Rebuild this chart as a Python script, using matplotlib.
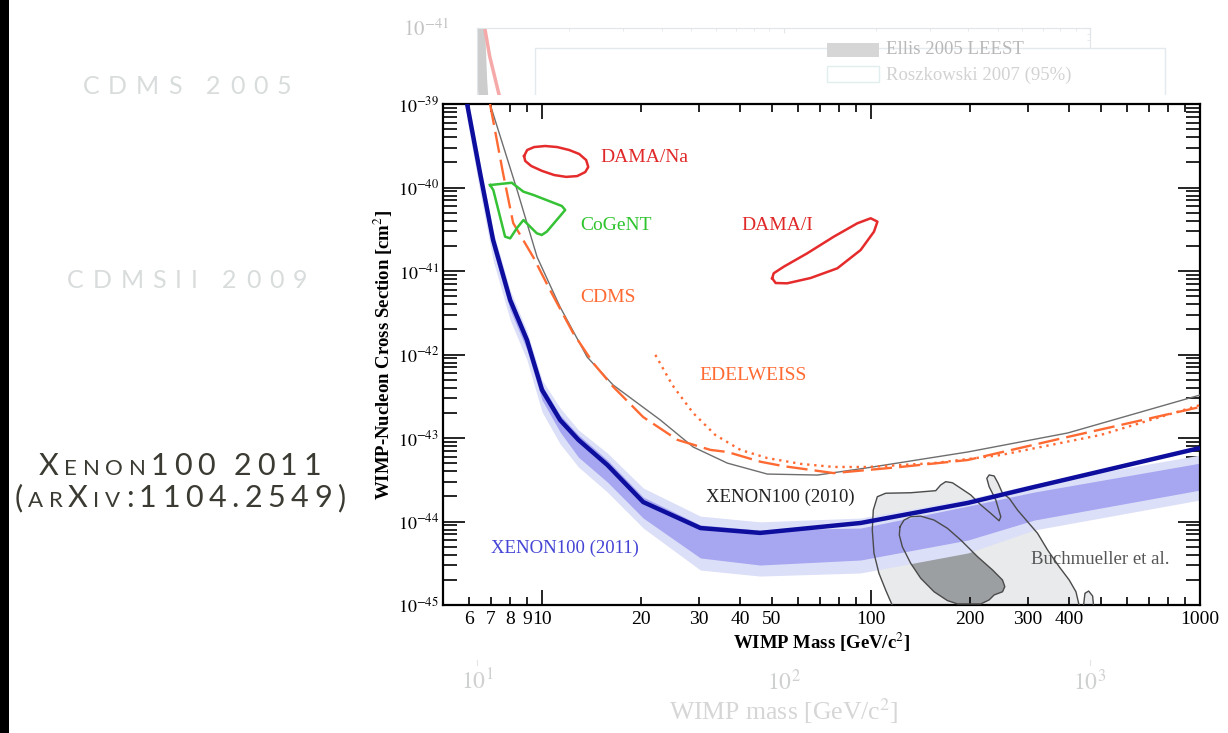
import numpy as np
import matplotlib
matplotlib.use("Agg")
import matplotlib.pyplot as plt
from matplotlib.patches import Rectangle
from matplotlib.lines import Line2D
from matplotlib.offsetbox import TextArea, HPacker, AnnotationBbox, DrawingArea
from matplotlib.ticker import LogLocator, NullFormatter

plt.rcParams['font.family'] = ['Liberation Serif', 'DejaVu Serif']
plt.rcParams['mathtext.fontset'] = 'stix'

W, H = 1228, 733

# XENON100 (2011) limit and expected sensitivity bands
xe11_mass = [5.92, 6.48, 7.1, 8.0, 9.0, 10.0, 11.35, 12.9, 15.8, 20.3, 30.3, 46.0, 93.0, 197.0, 313.0, 1000.0]
xe11_sigma = [1.0e-39, 1.49e-40, 2.35e-41, 4.5e-42, 1.49e-42, 3.76e-43, 1.64e-43, 9.5e-44, 4.75e-44,
              1.71e-44, 8.35e-45, 7.3e-45, 9.6e-45, 1.67e-44, 2.59e-44, 7.6e-44]
band1_hi = [1.12e-39, 1.71e-40, 2.62e-41, 5.0e-42, 1.62e-42, 4.3e-43, 1.88e-43, 1.09e-43, 5.45e-44,
            1.96e-44, 9.1e-45, 7.9e-45, 8.35e-45, 1.53e-44, 2.25e-44, 5.0e-44]
band1_lo = [8.0e-40, 1.16e-40, 1.78e-41, 3.41e-42, 1.13e-42, 2.85e-43, 1.18e-43, 5.9e-44, 2.97e-44,
            1.10e-44, 3.66e-45, 3.01e-45, 3.46e-45, 6.0e-45, 1.04e-44, 2.38e-44]
band2_hi = [1.25e-39, 1.96e-40, 3.01e-41, 5.9e-42, 1.91e-42, 4.95e-43, 2.29e-43, 1.25e-43, 6.6e-44,
            2.52e-44, 1.16e-44, 9.9e-45, 1.10e-44, 1.86e-44, 2.81e-44, 6.25e-44]
band2_lo = [6.4e-40, 8.8e-41, 1.35e-41, 2.59e-42, 8.6e-43, 2.05e-43, 8.5e-44, 4.5e-44, 2.25e-44,
            8.35e-45, 2.62e-45, 2.22e-45, 2.42e-45, 4.2e-45, 7.9e-45, 1.81e-44]

# XENON100 (2010)
xe10_mass = [6.95, 8.40, 9.66, 11.35, 13.72, 16.46, 22.9, 28.8, 36.6, 48.4, 68.8, 97.6, 196.8, 396.7, 1000.0]
xe10_sigma = [1.0e-39, 9.3e-41, 1.47e-41, 3.7e-42, 9.3e-43, 4.3e-43, 1.64e-43, 7.8e-44, 5.0e-44,
              3.7e-44, 3.6e-44, 4.4e-44, 6.8e-44, 1.15e-43, 3.27e-43]

# CDMS
cdms_mass = [6.95, 7.61, 8.17, 9.40, 10.58, 12.43, 14.31, 16.46, 20.3, 25.8, 32.5, 36.6, 46.1, 54.2,
             77.0, 123.0, 196.8, 396.7, 1000.0]
cdms_sigma = [1.0e-39, 1.49e-40, 3.76e-41, 1.47e-41, 5.9e-42, 1.81e-42, 7.9e-43, 4.1e-43, 1.78e-43,
              9.5e-44, 7.2e-44, 6.8e-44, 5.2e-44, 4.6e-44, 3.8e-44, 4.5e-44, 5.45e-44, 1.03e-43, 2.35e-43]

# EDELWEISS
edw_mass = [22.1, 24.9, 28.8, 33.6, 40.1, 48.4, 61.1, 77.0, 97.6, 155.0, 248.0, 500.0, 1000.0]
edw_sigma = [9.9e-43, 4.3e-43, 1.99e-43, 1.09e-43, 7.2e-44, 5.75e-44, 4.9e-44, 4.5e-44, 4.5e-44,
             5.0e-44, 6.25e-44, 1.09e-43, 2.48e-43]

# DAMA/Na contour
dama_na_mass = [8.82, 9.01, 9.46, 10.22, 11.12, 12.10, 12.97, 13.62, 13.82, 13.53, 12.79, 11.84,
                10.89, 10.0, 9.27, 8.89, 8.82]
dama_na_sigma = [2.38e-40, 2.81e-40, 3.05e-40, 3.14e-40, 3.05e-40, 2.81e-40, 2.52e-40, 2.13e-40,
                 1.76e-40, 1.53e-40, 1.37e-40, 1.34e-40, 1.41e-40, 1.58e-40, 1.81e-40, 2.08e-40, 2.38e-40]

# DAMA/I contour
dama_i_mass = [50.07, 51.3, 55.6, 65.5, 79.0, 93.0, 102.1, 104.6, 99.8, 90.9, 77.1, 64.0, 54.3, 50.6, 50.07]
dama_i_sigma = [8.18e-42, 7.18e-42, 7.12e-42, 8.24e-42, 1.077e-41, 1.784e-41, 2.96e-41, 3.90e-41,
                4.28e-41, 3.73e-41, 2.58e-41, 1.63e-41, 1.126e-41, 9.39e-42, 8.18e-42]

# CoGeNT contour
cogent_mass = [6.95, 8.09, 8.78, 9.42, 11.49, 11.76, 10.34, 9.98, 9.64, 8.78, 8.38, 8.0, 7.72, 7.11, 6.95]
cogent_sigma = [1.07e-40, 1.14e-40, 8.91e-41, 8.13e-41, 6.0e-41, 5.38e-41, 2.96e-41, 2.70e-41, 2.83e-41,
                4.08e-41, 3.25e-41, 2.46e-41, 2.58e-41, 9.33e-41, 1.07e-40]

# Buchmueller et al. (outer, inner, small island)
buch_out_mass = [118.8, 110.8, 105.7, 102.1, 100.9, 101.6, 104.5, 110.8, 132.0, 157.3, 162.9, 168.7,
                 176.8, 187.4, 201.0, 215.6, 231.3, 245.1, 248.0, 239.5, 228.6, 224.9, 228.6, 236.7,
                 243.4, 251.0, 263.0, 278.9, 299.1, 320.8, 344.1, 373.3, 400.4, 419.7, 434.7]
buch_out_sigma = [8e-46, 1.51e-45, 2.40e-45, 4.16e-45, 7.91e-45, 1.37e-44, 1.98e-44, 2.18e-44, 2.21e-44,
                  2.34e-44, 2.74e-44, 3.00e-44, 2.91e-44, 2.50e-44, 2.08e-44, 1.58e-44, 1.25e-44,
                  1.02e-44, 1.14e-44, 1.81e-44, 2.61e-44, 3.29e-44, 3.61e-44, 3.51e-44, 2.87e-44,
                  2.18e-44, 1.90e-44, 1.37e-44, 9.94e-45, 7.22e-45, 4.56e-45, 2.87e-45, 1.99e-45,
                  1.44e-45, 8e-46]
buch_isl_mass = [439.9, 447.0, 458.7, 471.7, 477.0]
buch_isl_sigma = [8e-46, 1.38e-45, 1.47e-45, 1.28e-45, 8e-46]
buch_in_mass = [122.5, 126.0, 132.0, 141.6, 155.5, 170.7, 187.4, 210.7, 234.0, 251.0, 255.1, 251.0,
                236.7, 228.6, 215.6, 201.0, 183.2, 170.7, 155.5, 141.6, 132.0, 124.5, 121.9, 122.5]
buch_in_sigma = [8.66e-45, 1.04e-44, 1.14e-44, 1.16e-44, 1.04e-44, 8.29e-45, 6.00e-45, 3.79e-45,
                 2.63e-45, 1.99e-45, 1.66e-45, 1.44e-45, 1.32e-45, 1.15e-45, 1.03e-45, 1.03e-45,
                 1.03e-45, 1.13e-45, 1.44e-45, 2.09e-45, 3.16e-45, 4.99e-45, 6.89e-45, 8.66e-45]

x_major = [10, 100, 1000]
x_minor = [6, 7, 8, 9, 20, 30, 40, 50, 60, 70, 80, 90, 200, 300, 400, 500, 600, 700, 800, 900]
x_minor_labels = ['6', '7', '8', '9', '20', '30', '40', '50', '', '', '', '',
                  '200', '300', '400', '', '', '', '', '']
y_major = [1e-45, 1e-44, 1e-43, 1e-42, 1e-41, 1e-40, 1e-39]
y_labels = ['$10^{-45}$', '$10^{-44}$', '$10^{-43}$', '$10^{-42}$', '$10^{-41}$', '$10^{-40}$', '$10^{-39}$']

# faded chart behind (previous slide)
old_pink_mass = [10.6, 11.0, 11.8, 12.5]
old_pink_sigma = [1e-41, 6e-42, 3e-42, 1.5e-42]
old_gray_mass = [10.25, 10.4, 10.6]
old_gray_sigma = [1e-41, 4e-42, 2e-42]

fig = plt.figure(figsize=(W / 100, H / 100), dpi=100)
fig.patch.set_facecolor('white')

# ---- ghost axes ----
gx = fig.add_axes([477 / W, 68 / H, 613 / W, 637 / H], zorder=0)
gx.set_xscale('log')
gx.set_yscale('log')
gx.set_xlim(10, 1000)
gx.set_ylim(1e-46, 1e-41)
gx.plot(old_gray_mass, old_gray_sigma, color='#cdcdcd', lw=7, solid_capstyle='butt')
gx.plot(old_pink_mass, old_pink_sigma, color='#f6a9a9', lw=2.5)
gx.spines['bottom'].set_visible(False)
for s in ['top', 'left', 'right']:
    gx.spines[s].set_color('#dfe5e8')
gx.tick_params(which='both', direction='in', color='#e2e7ea', top=True, right=True, bottom=False)
gx.set_xticks(x_major, labels=['$10^1$', '$10^2$', '$10^3$'])
gx.xaxis.set_minor_formatter(NullFormatter())
gx.tick_params(axis='x', labelsize=17, labelcolor='#cfd0d0', pad=3)
gx.set_yticks([1e-41], labels=['$10^{-41}$'])
gx.yaxis.set_minor_locator(LogLocator(subs=range(2, 10)))
gx.yaxis.set_minor_formatter(NullFormatter())
gx.tick_params(axis='y', labelsize=15, labelcolor='#c4c4c4', pad=20)
gx.set_xlabel('WIMP mass [GeV/c$^2$]', fontsize=18.5, color='#d6d6d6', labelpad=1)


def fr(x, y):
    return (x / W, 1 - y / H)


# ghost legend box and entries
fig.add_artist(Rectangle(fr(535, 96), 630 / W, 48 / H, transform=fig.transFigure,
                         fc='white', ec='none', zorder=0.15))
frame_x = [535, 535, 1165, 1165]
frame_y = [96, 48, 48, 96]
fig.add_artist(Line2D([x / W for x in frame_x], [1 - y / H for y in frame_y],
                      transform=fig.transFigure, color='#e3e9ec', lw=1, zorder=0.2))
fig.add_artist(Rectangle(fr(827, 57), 52 / W, 14 / H, transform=fig.transFigure,
                         fc='#d6d6d6', ec='none', zorder=0.3))
fig.add_artist(Rectangle(fr(827, 82), 52 / W, 16 / H, transform=fig.transFigure,
                         fill=False, ec='#e0eeee', lw=1, zorder=0.3))
fig.text(*fr(886, 50), 'Ellis 2005 LEEST', fontsize=13.5, color='#b8b8b8', va='center', zorder=0.3)
fig.text(*fr(886, 75), 'Roszkowski 2007 (95%)', fontsize=13.5, color='#d2d2d2', va='center', zorder=0.3)

# white cover for the main slide picture
fig.add_artist(Rectangle(fr(360, 660), 868 / W, 565 / H, transform=fig.transFigure,
                         fc='white', ec='none', zorder=1))

# ---- main axes ----
ax = fig.add_axes([443 / W, 128 / H, 757 / W, 501 / H], zorder=2)
ax.set_xscale('log')
ax.set_yscale('log')
ax.set_xlim(5, 1000)
ax.set_ylim(1e-45, 1e-39)

ax.fill(buch_out_mass, buch_out_sigma, color='#e8eaeb', lw=0, zorder=1)
ax.fill(buch_isl_mass, buch_isl_sigma, color='#e8eaeb', lw=0, zorder=1)
ax.fill(buch_in_mass, buch_in_sigma, color='#9c9fa1', lw=0, zorder=1.1)

ax.fill_between(xe11_mass, band2_lo, band2_hi, color='#dcdff8', lw=0, zorder=2)
ax.fill_between(xe11_mass, band1_lo, band1_hi, color='#a6a6f1', lw=0, zorder=2.1)

ax.plot(buch_out_mass, buch_out_sigma, color='#4a4a4a', lw=1, zorder=3)
ax.plot(buch_isl_mass, buch_isl_sigma, color='#4a4a4a', lw=1, zorder=3)
ax.plot(buch_in_mass, buch_in_sigma, color='#4a4a4a', lw=1, zorder=3)

ax.plot(xe10_mass, xe10_sigma, color='#6e6e6e', lw=1, zorder=3.5)
ax.plot(cdms_mass, cdms_sigma, color='#ff6a33', lw=1.7, ls=(0, (9, 3)), zorder=3.6)
ax.plot(edw_mass, edw_sigma, color='#ff6a33', lw=1.7, ls=(0, (1, 2)), zorder=3.6)
ax.plot(dama_na_mass, dama_na_sigma, color='#e52b2b', lw=1.8, zorder=3.7)
ax.plot(dama_i_mass, dama_i_sigma, color='#e52b2b', lw=1.8, zorder=3.7)
ax.plot(cogent_mass, cogent_sigma, color='#35c235', lw=1.8, zorder=3.7)
ax.plot(xe11_mass, xe11_sigma, color='#0d0d9e', lw=3.2, zorder=4, solid_capstyle='butt')

lab = dict(va='center', ha='left', zorder=5)
ax.text(15.0, 2.3e-40, 'DAMA/Na', color='#e02828', fontsize=14, **lab)
ax.text(13.1, 3.5e-41, 'CoGeNT', color='#2ec42e', fontsize=14, **lab)
ax.text(40.3, 3.5e-41, 'DAMA/I', color='#e02828', fontsize=14, **lab)
ax.text(13.1, 4.75e-42, 'CDMS', color='#ff6a33', fontsize=14, **lab)
ax.text(30.0, 5.67e-43, 'EDELWEISS', color='#ff6a33', fontsize=14, **lab)
ax.text(31.4, 1.96e-44, 'XENON100 (2010)', color='#222222', fontsize=13.5, **lab)
ax.text(7.0, 4.8e-45, 'XENON100 (2011)', color='#4545d5', fontsize=13.5, **lab)
ax.text(306, 3.46e-45, 'Buchmueller et al.', color='#555555', fontsize=13.5, va='center', ha='left', zorder=2.5)

for s in ax.spines.values():
    s.set_linewidth(1.6)
ax.set_xticks(x_major, labels=['10', '100', '1000'])
ax.set_xticks(x_minor, labels=x_minor_labels, minor=True)
ax.set_yticks(y_major, labels=y_labels)
ax.yaxis.set_minor_locator(LogLocator(subs=range(2, 10)))
ax.yaxis.set_minor_formatter(NullFormatter())
ax.tick_params(which='both', direction='in', top=True, right=True, width=1.2, color='black')
ax.tick_params(axis='x', which='major', length=11, labelsize=14, pad=4)
ax.tick_params(axis='x', which='minor', length=6, labelsize=14, pad=4)
ax.tick_params(axis='y', which='major', length=16, labelsize=13, pad=3)
ax.tick_params(axis='y', which='minor', length=10)
ax.set_xlabel('WIMP Mass [GeV/c$^2$]', fontsize=13.5, fontweight='bold', labelpad=2)
ax.set_ylabel('WIMP-Nucleon Cross Section [cm$^2$]', fontsize=13.5, fontweight='bold', labelpad=2)


# ---- slide titles on the left ----
def caps(x, y, parts, color, sep, family='Lato'):
    kids = []
    for s, size in parts:
        for ch in s:
            if ch == ' ':
                kids.append(DrawingArea(size * 0.25, 1))
            else:
                kids.append(TextArea(ch, textprops=dict(fontsize=size, color=color, family=family)))
    pack = HPacker(children=kids, align='baseline', pad=0, sep=sep)
    ab = AnnotationBbox(pack, (x, H - y), xycoords='figure pixels', frameon=False,
                        box_alignment=(0.5, 0.5), pad=0, zorder=3)
    fig.add_artist(ab)


caps(187, 87, [('CDMS 2005', 18)], '#d9dcdc', 6.5)
caps(187, 280, [('CDMSII 2009', 18)], '#d9dcdc', 6.5)
caps(180, 466, [('X', 22), ('ENON', 16), ('100 2011', 22)], '#3b3b33', 4)
caps(180, 498, [('(', 22), ('AR', 16), ('X', 22), ('IV', 16), (':1104.2549)', 22)], '#3b3b33', 4)

fig.add_artist(Rectangle((0, 0), 9 / W, 1, transform=fig.transFigure, fc='black', ec='none', zorder=6))

fig.savefig('out.png', dpi=100)
